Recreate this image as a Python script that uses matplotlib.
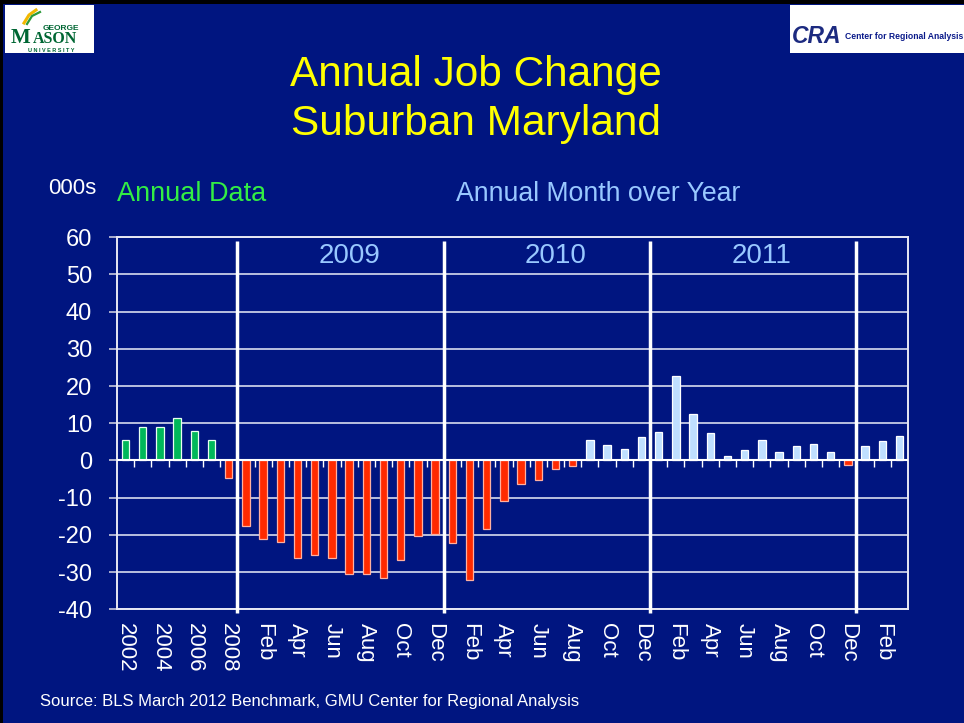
import matplotlib
matplotlib.use("Agg")
import matplotlib.pyplot as plt
from matplotlib.patches import Rectangle
from matplotlib import font_manager
import numpy as np

plt.rcParams['font.family'] = ['Liberation Sans', 'DejaVu Sans']
plt.rcParams['axes.unicode_minus'] = False

# data (thousands of jobs)
annual_years = ['2002', '2003', '2004', '2005', '2006', '2007', '2008']
annual_change = [5.4, 9.1, 8.9, 11.3, 8.0, 5.6, -4.6]
months = ['Jan', 'Feb', 'Mar', 'Apr', 'May', 'Jun', 'Jul', 'Aug', 'Sep', 'Oct', 'Nov', 'Dec']
change_2009 = [-17.7, -21.1, -22.0, -26.3, -25.4, -26.2, -30.4, -30.4, -31.7, -26.7, -20.4, -19.7]
change_2010 = [-22.3, -32.2, -18.5, -10.9, -6.2, -5.2, -2.2, -1.4, 5.5, 4.3, 3.2, 6.2]
change_2011 = [7.7, 22.7, 12.5, 7.5, 1.1, 2.8, 5.5, 2.2, 4.0, 4.4, 2.2, -1.1]
change_2012 = [3.8, 5.3, 6.5]
year_blocks = ['2009', '2010', '2011']

NAVY = '#001580'
GREEN = '#00B85A'
RED = '#FF2A00'
LIGHT = '#BFDFFF'
TXT_BLUE = '#99C8FF'
GMU_GREEN = '#006633'

values = annual_change + change_2009 + change_2010 + change_2011 + change_2012
labels = annual_years + months * 3 + months[:len(change_2012)]
n = len(values)
x = np.arange(n)
n_ann = len(annual_years)

colors = []
edges = []
for i, v in enumerate(values):
    if v < 0:
        colors.append(RED)
        edges.append('#FFB0A0')
    elif i < n_ann:
        colors.append(GREEN)
        edges.append('#E8FFF0')
    else:
        colors.append(LIGHT)
        edges.append('white')

fig = plt.figure(figsize=(9.64, 7.23), dpi=100)
fig.patch.set_facecolor(NAVY)

ax = fig.add_axes([117/964, 1-609.3/723, (908-117)/964, (609.3-237.3)/723])
ax.set_facecolor(NAVY)
ax.bar(x, values, width=0.43, color=colors, edgecolor=edges, linewidth=0.9, zorder=3)

ax.set_xlim(-0.5, n - 0.5)
ax.set_ylim(-40, 60)
ax.set_yticks(range(-40, 61, 10))
ax.yaxis.grid(True, color='#D8DCEE', lw=1.2, zorder=1)
ax.set_axisbelow(True)
for s in ax.spines.values():
    s.set_color('#E8E8F4')
    s.set_linewidth(1.4)
ax.tick_params(axis='y', length=6, width=1.2, color='#C8C8DC', labelcolor='white',
               labelsize=17, pad=12)

# every other category gets a label
ax.set_xticks(x[::2])
ax.set_xticklabels(labels[::2], rotation=270, color='white', fontsize=16)
ax.tick_params(axis='x', length=0, pad=10)

# zero line with small category ticks
ax.axhline(0, color='white', lw=1.5, zorder=4)
ax.vlines(np.arange(1, n) - 0.5, -1.8, 0, color='white', lw=1.0, zorder=4)

# year separators
seps = [n_ann - 0.5 + 12 * k for k in range(4)]
ax.vlines(seps, -41, 59, color='white', lw=2.5, zorder=5, clip_on=False)
for k, yr in enumerate(year_blocks):
    ax.text(n_ann + 12 * k + 6.0, 55, yr, color=TXT_BLUE, fontsize=20,
            ha='center', va='center')

# titles
fig.text(476/964, 1-86/723, 'Annual Job Change', color='#FFFF00', fontsize=30.5,
         ha='center', va='baseline')
fig.text(476/964, 1-135/723, 'Suburban Maryland', color='#FFFF00', fontsize=30.5,
         ha='center', va='baseline')
fig.text(48/964, 1-194/723, '000s', color='white', fontsize=16, ha='left', va='baseline')
fig.text(117/964, 1-201/723, 'Annual Data', color='#33EE44', fontsize=19.5,
         ha='left', va='baseline')
fig.text(456/964, 1-201/723, 'Annual Month over Year', color=TXT_BLUE, fontsize=19.2,
         ha='left', va='baseline')
fig.text(40/964, 1-706/723, 'Source: BLS March 2012 Benchmark, GMU Center for Regional Analysis',
         color='white', fontsize=12, ha='left', va='baseline')

# George Mason logo box
fig.patches.append(Rectangle((5/964, 1-53/723), 89/964, 48/723, transform=fig.transFigure,
                             facecolor='white', edgecolor='none', zorder=1))
fig.text(11/964, 1-43/723, 'M', color=GMU_GREEN, fontsize=15, family='Liberation Serif',
         weight='bold', va='baseline')
fig.text(33/964, 1-43/723, 'ASON', color=GMU_GREEN, fontsize=11.5, family='Liberation Serif',
         weight='bold', va='baseline')
fig.text(43/964, 1-29.5/723, 'GEORGE', color=GMU_GREEN, fontsize=6, weight='bold', va='baseline')
fig.text(51/964, 1-52.5/723, 'U N I V E R S I T Y', color=GMU_GREEN, fontsize=4,
         weight='bold', ha='center', va='baseline')
fig.lines.append(plt.Line2D([24/964, 29/964, 36/964], [1-23/723, 1-15/723, 1-10/723],
                            transform=fig.transFigure, color='#F2B800', lw=2.2))
fig.lines.append(plt.Line2D([27/964, 32/964, 40/964], [1-24/723, 1-16/723, 1-12/723],
                            transform=fig.transFigure, color='#2E9B3A', lw=1.6))

# CRA logo box
fig.patches.append(Rectangle((790/964, 1-53/723), 174/964, 48/723, transform=fig.transFigure,
                             facecolor='white', edgecolor='none', zorder=1))
fig.text(792/964, 1-43/723, 'CRA', color='#1C2A80', fontsize=16.5, weight='bold',
         style='italic', va='baseline')
installed = {f.name for f in font_manager.fontManager.ttflist}
if 'Liberation Sans Narrow' in installed:
    cra_family, cra_size = 'Liberation Sans Narrow', 7.5
else:
    cra_family, cra_size = 'Liberation Sans', 6.2
fig.text(845/964, 1-39/723, 'Center for Regional Analysis', color='#0A1A8A', fontsize=cra_size,
         family=cra_family, weight='bold', va='baseline')

# black edge of the slide
fig.patches.append(Rectangle((0, 1-4/723), 1, 4/723, transform=fig.transFigure,
                             facecolor='black', edgecolor='none', zorder=2))
fig.patches.append(Rectangle((0, 0), 3/964, 1, transform=fig.transFigure,
                             facecolor='black', edgecolor='none', zorder=2))

fig.savefig('out.png', dpi=100, facecolor=NAVY)
